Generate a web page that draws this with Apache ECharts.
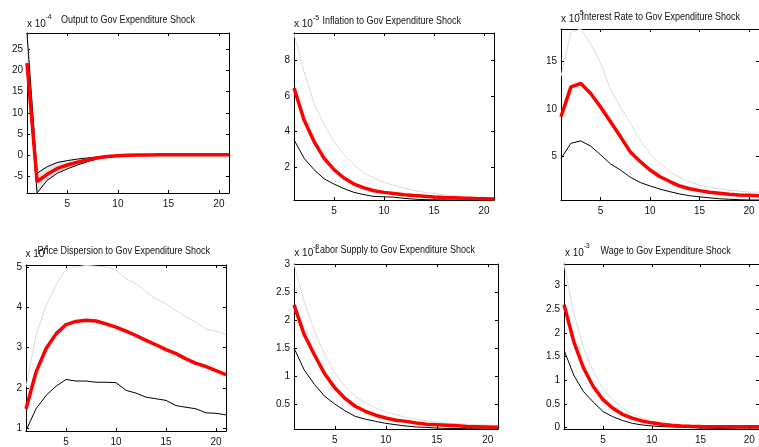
<!DOCTYPE html>
<html>
<head>
<meta charset="utf-8">
<script src="https://cdn.jsdelivr.net/npm/echarts@6/dist/echarts.min.js"></script>
<style>
  html, body { margin: 0; padding: 0; background: #fff; }
  #chart { width: 759px; height: 447px; }
</style>
</head>
<body>
<div id="chart"></div>
<script>
// Impulse responses to a government expenditure shock (horizon 1..21)
const periods = [1,2,3,4,5,6,7,8,9,10,11,12,13,14,15,16,17,18,19,20,21];

// Output (x 10^-4)
const outputMid   = [21.7,-6.2,-4.5,-3.1,-2.3,-1.66,-1.1,-0.6,-0.3,-0.1,0,0.05,0.08,0.1,0.1,0.1,0.1,0.1,0.1,0.1,0.1];
const outputUpper = [28.8,-4.25,-2.7,-1.7,-1.27,-0.9,-0.64,-0.4,-0.15,0,0.05,0.08,0.1,0.12,0.12,0.12,0.12,0.12,0.12,0.12,0.12];
const outputLower = [21.0,-8.9,-5.9,-4.25,-3.2,-2.3,-1.5,-0.85,-0.45,-0.2,-0.1,-0.05,0,0.03,0.05,0.06,0.07,0.08,0.08,0.08,0.08];

// Inflation (x 10^-5)
const inflMid   = [6.45,4.66,3.44,2.5,1.85,1.38,1.04,0.82,0.66,0.57,0.5,0.44,0.39,0.35,0.31,0.28,0.26,0.24,0.22,0.21,0.2];
const inflUpper = [9.5,7.39,5.6,4.38,3.44,2.69,2.13,1.66,1.38,1.13,0.96,0.8,0.68,0.58,0.5,0.44,0.39,0.35,0.32,0.3,0.28];
const inflLower = [3.54,2.5,1.85,1.34,1.04,0.78,0.57,0.44,0.34,0.32,0.3,0.23,0.19,0.16,0.15,0.15,0.14,0.14,0.14,0.14,0.14];

// Interest rate (x 10^-5)
const rateMid   = [9.17,12.3,12.65,11.6,10.2,8.66,7.1,5.5,4.5,3.6,2.9,2.4,1.93,1.65,1.45,1.27,1.17,1.06,1.0,0.96,0.92];
const rateUpper = [13.4,18.0,18.35,16.8,14.8,12.0,10.2,8.5,6.7,5.3,4.3,3.4,2.8,2.35,2.05,1.8,1.62,1.5,1.4,1.3,1.27];
const rateLower = [4.8,6.4,6.65,6.1,5.2,4.25,3.6,2.85,2.3,1.94,1.6,1.34,1.1,0.92,0.8,0.7,0.6,0.55,0.5,0.47,0.47];

// Price dispersion
const dispMid   = [1.48,2.39,2.97,3.34,3.57,3.65,3.68,3.66,3.59,3.51,3.41,3.30,3.18,3.07,2.95,2.85,2.72,2.61,2.53,2.43,2.33];
const dispUpper = [2.02,3.3,4.05,4.55,4.96,5.0,5.04,5.02,5.0,4.93,4.71,4.59,4.38,4.21,4.09,3.92,3.76,3.63,3.45,3.41,3.32];
const dispLower = [0.94,1.48,1.81,2.04,2.21,2.17,2.17,2.14,2.14,2.13,1.94,1.87,1.77,1.73,1.69,1.56,1.52,1.48,1.38,1.37,1.33];

// Labor supply (x 10^-3)
const laborMid   = [2.27,1.74,1.38,1.04,0.79,0.6,0.46,0.37,0.30,0.25,0.21,0.19,0.16,0.14,0.13,0.12,0.11,0.10,0.095,0.09,0.085];
const laborUpper = [3.0,2.33,1.8,1.38,1.05,0.82,0.64,0.52,0.43,0.36,0.31,0.26,0.23,0.2,0.18,0.16,0.15,0.14,0.13,0.125,0.12];
const laborLower = [1.5,1.11,0.85,0.64,0.5,0.38,0.28,0.23,0.19,0.155,0.13,0.107,0.09,0.083,0.07,0.065,0.062,0.06,0.058,0.056,0.054];

// Wage (x 10^-3)
const wageMid   = [2.6,1.82,1.26,0.87,0.59,0.41,0.28,0.2,0.14,0.1,0.07,0.05,0.035,0.028,0.022,0.02,0.02,0.02,0.02,0.02,0.02];
const wageUpper = [3.46,2.42,1.68,1.19,0.82,0.59,0.41,0.29,0.2,0.14,0.1,0.07,0.05,0.04,0.035,0.035,0.035,0.035,0.035,0.035,0.035];
const wageLower = [1.64,1.11,0.76,0.54,0.34,0.23,0.15,0.09,0.056,0.035,0.02,0.014,0.007,0,-0.01,-0.015,-0.02,-0.025,-0.03,-0.03,-0.03];

// Axis ticks
const xTicks = [5,10,15,20];
const outputTicks = [-5,0,5,10,15,20,25];
const inflTicks = [2,4,6,8];
const rateTicks = [5,10,15];
const dispTicks = [1,2,3,4,5];
const laborTicks = [0.5,1,1.5,2,2.5,3];
const wageTicks = [0,0.5,1,1.5,2,2.5,3];

const panels = [
  { title: 'Output to Gov Expenditure Shock', exp: '-4', mid: outputMid, up: outputUpper, lo: outputLower,
    yTicks: outputTicks, ymin: -8.9, ymax: 28.8, shaded: true,
    grid: { left: 27, top: 33, width: 202, height: 160 },
    txt: { tx: 61, ty: 20.5, ex: 27, ey: 25, sx: 45.5, sy: 18 } },
  { title: 'Inflation to Gov Expenditure Shock', exp: '-5', mid: inflMid, up: inflUpper, lo: inflLower,
    yTicks: inflTicks, ymin: 0.14, ymax: 9.55,
    grid: { left: 294, top: 33, width: 200, height: 167 },
    txt: { tx: 322.5, ty: 21.2, ex: 294, ey: 25.5, sx: 313, sy: 19 } },
  { title: 'Interest Rate to Gov Expenditure Shock', exp: '-5', mid: rateMid, up: rateUpper, lo: rateLower,
    yTicks: rateTicks, ymin: 0.47, ymax: 18.35,
    grid: { left: 561, top: 29, width: 206, height: 171 },
    txt: { tx: 581.5, ty: 17, ex: 561, ey: 19.8, sx: 577.5, sy: 14 } },
  { title: 'Price Dispersion to Gov Expenditure Shock', exp: '-4', mid: dispMid, up: dispUpper, lo: dispLower,
    yTicks: dispTicks, ymin: 0.93, ymax: 5.05,
    grid: { left: 26, top: 265, width: 200, height: 167 },
    txt: { tx: 37.5, ty: 251.7, ex: 25.5, ey: 255.2, sx: 42, sy: 248.5 } },
  { title: 'Labor Supply to Gov Expenditure Shock', exp: '-3', mid: laborMid, up: laborUpper, lo: laborLower,
    yTicks: laborTicks, ymin: 0.054, ymax: 3.0,
    grid: { left: 294, top: 264, width: 204, height: 165 },
    txt: { tx: 315, ty: 250, ex: 294.3, ey: 254.2, sx: 313, sy: 247.5 } },
  { title: 'Wage to Gov Expenditure Shock', exp: '-3', mid: wageMid, up: wageUpper, lo: wageLower,
    yTicks: wageTicks, ymin: -0.03, ymax: 3.46,
    grid: { left: 564, top: 264, width: 206, height: 165 },
    txt: { tx: 600.5, ty: 250.8, ex: 565, ey: 254.2, sx: 583.5, sy: 247 } }
];

const pairs = (vals) => periods.map((p, i) => [p, vals[i]]);

const grids = [], xAxes = [], yAxes = [], series = [], graphics = [];
const tickFont = { fontFamily: '"Liberation Sans", Arial, sans-serif', fontSize: 10, color: '#111' };
const lineBlack = { color: '#000', width: 1 };

// Shaded confidence band: one quad per step, between lower and upper bounds
function bandRenderItem(params, api) {
  const a = api.coord([api.value(0), api.value(1)]);
  const b = api.coord([api.value(3), api.value(4)]);
  const c = api.coord([api.value(3), api.value(5)]);
  const d = api.coord([api.value(0), api.value(2)]);
  return {
    type: 'polygon',
    shape: { points: [a, b, c, d] },
    style: { fill: '#e6e6e6', stroke: '#e6e6e6', lineWidth: 0.6 }
  };
}

panels.forEach((p, i) => {
  grids.push(Object.assign({ containLabel: false }, p.grid));
  const xBase = {
    type: 'value', gridIndex: i, min: 1, max: 21,
    splitLine: { show: false },
    axisLine: { show: true, onZero: false, lineStyle: lineBlack },
    axisTick: { show: true, inside: true, length: 3, lineStyle: lineBlack, customValues: xTicks }
  };
  xAxes.push(Object.assign({}, xBase, {
    position: 'bottom',
    axisLabel: Object.assign({ margin: 6, customValues: xTicks }, tickFont)
  }));
  xAxes.push(Object.assign({}, xBase, { position: 'top', axisLabel: { show: false } }));
  const yBase = {
    type: 'value', gridIndex: i, min: p.ymin, max: p.ymax,
    splitLine: { show: false },
    axisLine: { show: true, onZero: false, lineStyle: lineBlack },
    axisTick: { show: true, inside: true, length: 3, lineStyle: lineBlack, customValues: p.yTicks }
  };
  yAxes.push(Object.assign({}, yBase, {
    position: 'left',
    axisLabel: Object.assign({ margin: 4, customValues: p.yTicks }, tickFont)
  }));
  yAxes.push(Object.assign({}, yBase, { position: 'right', axisLabel: { show: false } }));

  const xi = 2 * i, yi = 2 * i;
  const common = { type: 'line', xAxisIndex: xi, yAxisIndex: yi, symbol: 'none', silent: true, animation: false };

  if (p.shaded) {
    series.push({
      type: 'custom', xAxisIndex: xi, yAxisIndex: yi, silent: true, clip: true,
      renderItem: bandRenderItem,
      encode: { x: [0, 3], y: [1, 2, 4, 5] },
      data: periods.slice(0, -1).map((x, k) => [x, p.lo[k], p.up[k], periods[k + 1], p.lo[k + 1], p.up[k + 1]])
    });
  }
  series.push(Object.assign({}, common, {
    data: pairs(p.up),
    lineStyle: p.shaded ? { color: '#000', width: 1 } : { color: '#dcdcdc', width: 1 }
  }));
  series.push(Object.assign({}, common, {
    data: pairs(p.lo), lineStyle: { color: '#000', width: 1 }
  }));
  series.push(Object.assign({}, common, {
    data: pairs(p.mid), lineStyle: { color: '#ff0000', width: 3.5 }
  }));

  graphics.push({
    type: 'text', left: p.txt.ex, top: p.txt.ey - 6,
    style: { text: 'x 10', font: '10px "Liberation Sans", Arial, sans-serif', fill: '#111' }
  });
  graphics.push({
    type: 'text', left: p.txt.sx, top: p.txt.sy - 4,
    style: { text: p.exp, font: '7px "Liberation Sans", Arial, sans-serif', fill: '#111' }
  });
  graphics.push({
    type: 'text', x: p.txt.tx, y: p.txt.ty, scaleX: 0.9,
    style: { text: p.title, font: '10px "Liberation Sans", Arial, sans-serif', fill: '#111',
             align: 'left', verticalAlign: 'middle' }
  });
});

const chart = echarts.init(document.getElementById('chart'), null, { renderer: 'canvas' });
chart.setOption({
  backgroundColor: '#fff',
  animation: false,
  grid: grids,
  xAxis: xAxes,
  yAxis: yAxes,
  series: series,
  graphic: graphics
});
</script>
</body>
</html>
